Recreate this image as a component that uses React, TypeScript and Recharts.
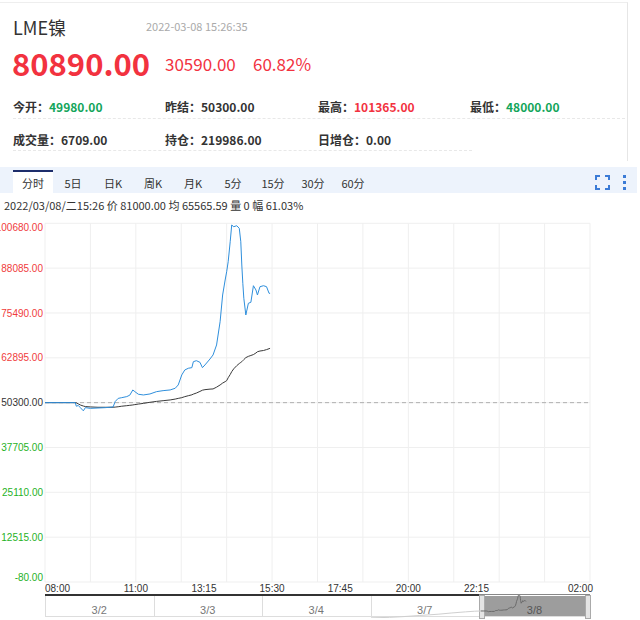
import React from 'react';
import { CartesianGrid, Line, LineChart, ReferenceLine, XAxis, YAxis } from 'recharts';

// intraday minutes of LME nickel, 2022-03-08
const times = [
  '08:00', '08:30', '09:00', '09:02', '09:06', '09:10', '09:16', '09:20', '09:30', '09:45',
  '10:00', '10:15', '10:19', '10:25', '10:32', '10:42', '10:48', '10:54', '10:58', '11:05',
  '11:15', '11:28', '11:41', '11:54', '12:08', '12:18', '12:24', '12:31', '12:37', '12:44',
  '12:51', '12:54', '13:00', '13:07', '13:12', '13:17', '13:27', '13:33', '13:40', '13:47',
  '13:52', '13:57', '14:00', '14:03', '14:07', '14:10', '14:14', '14:20', '14:25', '14:28',
  '14:30', '14:32', '14:34', '14:38', '14:43', '14:48', '14:53', '14:58', '15:01', '15:06',
  '15:13', '15:19', '15:24', '15:26',
];
const prices = [
  50300, 50300, 50300, 49300, 49500, 48900, 48000, 48900, 48700, 48800,
  48900, 49100, 50600, 51500, 51700, 52000, 52400, 53860, 53400, 52660,
  52460, 52740, 53390, 53670, 53870, 54340, 55270, 58080, 59480, 59960,
  60130, 61810, 62090, 61640, 60130, 60890, 62570, 63690, 66500, 73040,
  80540, 84750, 87080, 89890, 95510, 100200, 99720, 100000, 99270, 95510,
  88970, 83830, 79620, 74930, 78210, 78490, 83150, 81950, 80540, 82870,
  83150, 82870, 81020, 81000,
];
const averages = [
  50300, 50300, 50300, 50250, 49950, 49650, 49350, 49200, 49100, 49000,
  49000, 49000, 49050, 49150, 49300, 49450, 49550, 49650, 49750, 49900,
  50100, 50400, 50650, 50850, 51060, 51300, 51500, 51700, 51985, 52250,
  52500, 52700, 53000, 53450, 53800, 53950, 54100, 54150, 54650, 55270,
  55800, 56200, 56480, 57300, 58200, 59000, 59800, 60690, 61300, 61600,
  61810, 62100, 62400, 62950, 63300, 63550, 63800, 64250, 64600, 64800,
  64950, 65200, 65450, 65566,
];

// 3/7 session as seen in the navigator strip
const prevTimes = ['08:00', '11:00', '13:00', '16:00', '19:00', '21:15', '23:30', '01:00', '02:00'];
const prevPrices = [28500, 30000, 32000, 36000, 40000, 44000, 47500, 49500, 50300];

const prevSettle = 50300;
const yTicks = [-80, 12515, 25110, 37705, 50300, 62895, 75490, 88085, 100680];
const timeTicks = ['08:00', '11:00', '13:15', '15:30', '17:45', '20:00', '22:15', '02:00'];
const gridTimes = ['08:00', '09:30', '11:00', '12:30', '14:00', '15:30', '17:00', '18:30', '20:00', '21:30', '23:00', '00:30', '02:00'];
const tabs = ['分时', '5日', '日K', '周K', '月K', '5分', '15分', '30分', '60分'];
const navDays = ['3/2', '3/3', '3/4', '3/7', '3/8'];

const CJK = "'Noto Sans CJK SC', 'Noto Sans', sans-serif";
const ARIAL = "'Liberation Sans', Arial, sans-serif";
const RED = '#f2323f';
const GREEN = '#13a55b';
const AX_RED = '#f03c3c';
const AX_GREEN = '#1fb21f';

const toMin = (t: string) => {
  const [h, m] = t.split(':').map(Number);
  return ((h - 8 + 24) % 24) * 60 + m;
};
const fmtTime = (m: number) => {
  const h = (Math.floor(m / 60) + 8) % 24;
  return `${String(h).padStart(2, '0')}:${String(m % 60).padStart(2, '0')}`;
};

const data = times.map((t, i) => ({ m: toMin(t), price: prices[i], avg: averages[i] }));
const navData = [
  ...prevTimes.map((t, i) => ({ m: toMin(t), prev: prevPrices[i] })),
  ...times.map((t, i) => ({ m: 1080 + toMin(t), today: prices[i] })),
];

const yMin = yTicks[0];
const yMax = yTicks[yTicks.length - 1];

const tickColor = (v: number) => (v > prevSettle ? AX_RED : v < prevSettle ? AX_GREEN : '#333');
const edgeShift = (v: number) => (v === yMax ? 4 : v === yMin ? -5 : 0);

const LeftTick = (props: any) => {
  const { x, y, payload } = props;
  const v = payload.value;
  return (
    <text x={x} y={y + edgeShift(v)} dy="0.355em" textAnchor="end" fontSize={10} fontFamily={ARIAL} fill={tickColor(v)}>
      {v.toFixed(2)}
    </text>
  );
};

const RightTick = (props: any) => {
  const { x, y, payload } = props;
  const v = payload.value;
  const pct = ((v - prevSettle) / prevSettle) * 100;
  return (
    <text x={x} y={y + edgeShift(v)} dy="0.355em" textAnchor="start" fontSize={10} fontFamily={ARIAL} fill={tickColor(v)}>
      {pct.toFixed(4)}%
    </text>
  );
};

const TimeTick = (props: any) => {
  const { x, y, payload, index } = props;
  const anchor = index === 0 ? 'start' : index === timeTicks.length - 1 ? 'end' : 'middle';
  return (
    <text x={index === timeTicks.length - 1 ? x + 3 : x} y={y} dy="0.71em" textAnchor={anchor} fontSize={10} fontFamily={ARIAL} fill="#333">
      {fmtTime(payload.value)}
    </text>
  );
};

const Txt = ({ left, cy, size, color = '#333', bold = false, family = CJK, children }: any) => (
  <div
    style={{
      position: 'absolute',
      left,
      top: cy - size / 2,
      fontSize: size,
      lineHeight: `${size}px`,
      color,
      fontWeight: bold ? 700 : 400,
      fontFamily: family,
      whiteSpace: 'nowrap',
    }}
  >
    {children}
  </div>
);

const Stat = ({ left, cy, label, value, color = '#333' }: any) => (
  <Txt left={left} cy={cy} size={12} bold>
    {label}：<span style={{ color }}>{value}</span>
  </Txt>
);

export default function App() {
  return (
    <div style={{ position: 'relative', width: 640, height: 620, overflow: 'hidden', background: '#fff' }}>
      <style>{'body{margin:0}'}</style>

      {/* quote header */}
      <div style={{ position: 'absolute', left: 0, top: 2, width: 627, height: 158, borderTop: '1px solid #eee', borderRight: '1px solid #e6e6e6' }} />
      <Txt left={13} cy={27} size={18}>LME镍</Txt>
      <Txt left={146} cy={26} size={11} color="#aaa">2022-03-08 15:26:35</Txt>
      <Txt left={12} cy={62} size={31} bold color={RED}>80890.00</Txt>
      <Txt left={165} cy={63} size={17} color={RED}>30590.00</Txt>
      <Txt left={253} cy={63} size={17} color={RED}>60.82%</Txt>

      <Stat left={13} cy={107} label="今开" value="49980.00" color={GREEN} />
      <Stat left={165} cy={107} label="昨结" value="50300.00" />
      <Stat left={318} cy={107} label="最高" value="101365.00" color={RED} />
      <Stat left={470} cy={107} label="最低" value="48000.00" color={GREEN} />
      <div style={{ position: 'absolute', left: 13, top: 118, width: 612, borderTop: '1px dashed #e8e8e8' }} />
      <Stat left={13} cy={140} label="成交量" value="6709.00" />
      <Stat left={165} cy={140} label="持仓" value="219986.00" />
      <Stat left={318} cy={140} label="日增仓" value="0.00" />
      <div style={{ position: 'absolute', left: 13, top: 150, width: 459, borderTop: '1px dashed #e8e8e8' }} />

      {/* period tabs */}
      <div style={{ position: 'absolute', left: 0, top: 167, width: 637, height: 26, background: '#edf3fc' }} />
      <div style={{ position: 'absolute', left: 13, top: 170, width: 40, height: 21, background: '#fff', borderTop: '2px solid #1d2d6b' }} />
      {tabs.map((t, i) => (
        <div
          key={t}
          style={{
            position: 'absolute', left: 13 + i * 40, top: 176, width: 40, textAlign: 'center',
            fontSize: 11, lineHeight: '14px', fontFamily: CJK, color: '#333',
          }}
        >
          {t}
        </div>
      ))}
      <svg style={{ position: 'absolute', left: 595, top: 175 }} width={15} height={15}>
        <path d="M1 5V1H5M10 1H14V5M14 10V14H10M5 14H1V10" fill="none" stroke="#3b7bd6" strokeWidth={2} />
      </svg>
      <svg style={{ position: 'absolute', left: 622, top: 174 }} width={6} height={17}>
        {[1, 7, 13].map((cy) => <rect key={cy} x={1} y={cy} width={3} height={3} fill="#3b7bd6" />)}
      </svg>

      <Txt left={4} cy={205} size={11}>
        2022/03/08/二15:26 价 81000.00 均 65565.59 量 0 幅 61.03%
      </Txt>

      {/* intraday chart */}
      <div style={{ position: 'absolute', left: 0, top: 212 }}>
        <LineChart width={640} height={385} data={data} margin={{ top: 11.3, right: 0, bottom: 0, left: 0 }}>
          <XAxis
            dataKey="m"
            type="number"
            domain={[0, 1080]}
            ticks={timeTicks.map(toMin)}
            interval={0}
            axisLine={false}
            tickLine={false}
            tickSize={0}
            tickMargin={2.5}
            height={15}
            tick={TimeTick}
          />
          <XAxis xAxisId="grid" type="number" dataKey="m" domain={[0, 1080]} ticks={gridTimes.map(toMin)} hide />
          <YAxis
            yAxisId="left"
            domain={[yMin, yMax]}
            ticks={yTicks}
            interval={0}
            width={45}
            axisLine={false}
            tickLine={false}
            tickSize={0}
            tickMargin={2}
            tick={LeftTick}
          />
          <YAxis
            yAxisId="right"
            orientation="right"
            domain={[yMin, yMax]}
            ticks={yTicks}
            interval={0}
            width={50}
            axisLine={false}
            tickLine={false}
            tickSize={0}
            tickMargin={1}
            tick={RightTick}
          />
          <CartesianGrid xAxisId="grid" yAxisId="left" stroke="#efefef" />
          <ReferenceLine yAxisId="left" y={prevSettle} stroke="#b0b0b0" strokeDasharray="4 3" />
          <Line yAxisId="left" dataKey="avg" stroke="#3a3a3a" strokeWidth={1} dot={false} type="linear" isAnimationActive={false} />
          <Line yAxisId="left" dataKey="price" stroke="#2f8fdc" strokeWidth={1} dot={false} type="linear" isAnimationActive={false} />
        </LineChart>
      </div>

      {/* day navigator */}
      <div style={{ position: 'absolute', left: 45, top: 594, width: 434, height: 2, background: '#333' }} />
      <div style={{ position: 'absolute', left: 479, top: 594, width: 111, height: 1, background: '#888' }} />
      {navDays.map((d, i) => {
        const last = i === navDays.length - 1;
        return (
          <div
            key={d}
            style={{
              position: 'absolute', left: 45 + i * 108.5, top: 596, width: last ? 111 : 108.5, height: 21,
              boxSizing: 'border-box', borderLeft: '1px solid #ddd', borderBottom: '1px solid #ddd',
              background: last ? '#9d9d9d' : '#fff',
            }}
          />
        );
      })}
      <div style={{ position: 'absolute', left: 479, top: 595, width: 4, height: 22, background: '#e4e4e4', border: '1px solid #aaa' }} />
      <div style={{ position: 'absolute', left: 585, top: 595, width: 4, height: 22, background: '#e4e4e4', border: '1px solid #aaa' }} />
      <div style={{ position: 'absolute', left: 370.5, top: 595 }}>
        <LineChart width={219.5} height={23} data={navData} margin={{ top: 0, right: 0, bottom: 0, left: 0 }}>
          <XAxis dataKey="m" type="number" domain={[0, 2160]} hide />
          <YAxis domain={[28000, 101000]} hide allowDataOverflow />
          <Line dataKey="prev" stroke="#cfcfcf" strokeWidth={1} dot={false} isAnimationActive={false} connectNulls />
          <Line dataKey="today" stroke="#6a6a6a" strokeWidth={1} dot={false} isAnimationActive={false} connectNulls />
        </LineChart>
      </div>
      {navDays.map((d, i) => (
        <div
          key={`l${d}`}
          style={{
            position: 'absolute', left: 45 + i * 108.5, top: 604, width: i === navDays.length - 1 ? 111 : 108.5,
            textAlign: 'center', fontSize: 11, lineHeight: '12px', fontFamily: ARIAL,
            color: i === navDays.length - 1 ? '#555' : '#777',
          }}
        >
          {d}
        </div>
      ))}
    </div>
  );
}
